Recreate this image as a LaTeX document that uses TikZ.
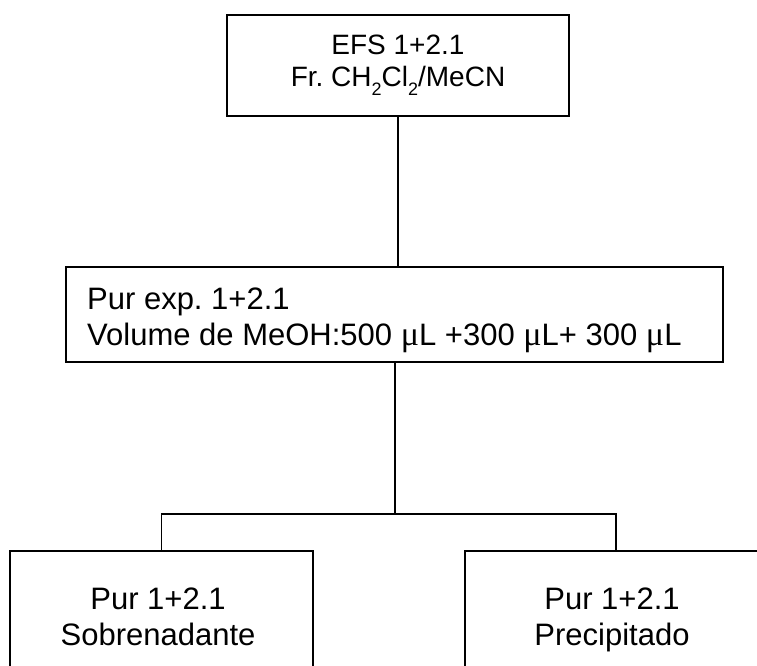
\documentclass[tikz,border=0pt]{standalone}
\usepackage{fontspec}
\setmainfont{Liberation Sans}
\newfontfamily\mufont{Liberation Serif}[Scale=1.1]
\newcommand\subtwo{\raisebox{-0.32em}{\fontsize{18}{18}\selectfont 2}}
\newcommand\micro{{\mufont μ}}
\frenchspacing
\begin{document}
\begin{tikzpicture}[x=1pt,y=-1pt,
  box/.style={draw, line width=1.5pt, inner sep=0pt},
  toptxt/.style={font=\fontsize{28}{32}\selectfont, align=center, inner sep=0pt},
  midtxt/.style={font=\fontsize{31}{36}\selectfont, align=left, inner sep=0pt, anchor=base west},
  bottxt/.style={font=\fontsize{31}{36}\selectfont, align=center, inner sep=0pt, anchor=base},
  conn/.style={line width=1.5pt}]
\clip (0,0) rectangle (757,666);
\node[box, toptxt, minimum width=342pt, minimum height=101pt] (efs) at (398,65.5)
  {EFS 1+2.1\\Fr. CH\subtwo Cl\subtwo/MeCN};
\node[box, minimum width=657pt, minimum height=95pt] (pur) at (394.5,314.5) {};
\node[midtxt] (purt) at (87,345)
  {Pur exp. 1+2.1\\Volume de MeOH:500 \micro L +300 \micro L+ 300 \micro L};
\node[box, minimum width=303pt, minimum height=160pt, anchor=north] (sob) at (161.5,550) {};
\node[bottxt] (sobt) at (158,645) {Pur 1+2.1\\Sobrenadante};
\node[box, minimum width=302pt, minimum height=160pt, anchor=north] (pre) at (616,550) {};
\node[bottxt] (pret) at (612,645) {Pur 1+2.1\\Precipitado};
\coordinate (fork) at (395,514);
\draw[conn] (efs.south) -- (efs.south |- pur.north);
\draw[conn] (pur.south -| fork) -- (fork);
\draw[conn] (sob.north) |- (fork) -| (pre.north);
\end{tikzpicture}
\end{document}
